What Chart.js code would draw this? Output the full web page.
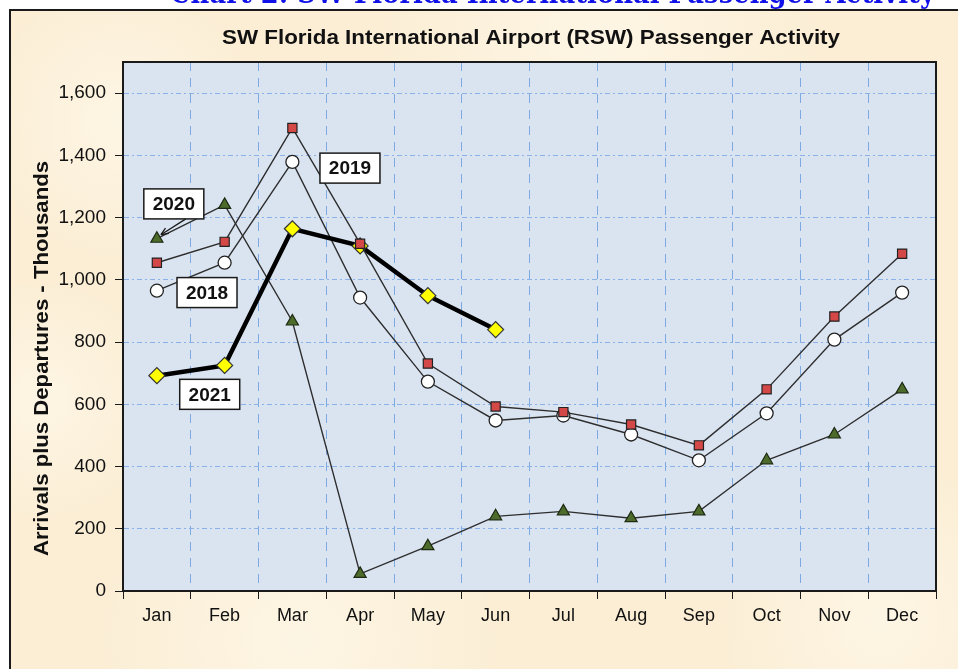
<!DOCTYPE html>
<html>
<head>
<meta charset="utf-8">
<script src="https://cdn.jsdelivr.net/npm/chart.js@4"></script>
<style>
  html, body { margin: 0; padding: 0; background: #ffffff; }
  canvas { display: block; }
</style>
</head>
<body>
<canvas id="myChart" width="958" height="669"></canvas>
<script>
// values, thousands of passengers
const months = ["Jan", "Feb", "Mar", "Apr", "May", "Jun", "Jul", "Aug", "Sep", "Oct", "Nov", "Dec"];
const pax2018 = [965, 1055, 1379, 943, 673, 548, 564, 503, 420, 571, 808, 959];
const pax2019 = [1055, 1122, 1488, 1116, 731, 593, 575, 535, 468, 648, 882, 1084];
const pax2020 = [1132, 1241, 866, 55, 144, 240, 256, 234, 256, 420, 503, 648];
const pax2021 = [692, 725, 1164, 1109, 949, 840, null, null, null, null, null, null];
const yTicks = [0, 200, 400, 600, 800, 1000, 1200, 1400, 1600];

const pageTitle = "Chart 2: SW Florida International Passenger Activity";
const chartTitle = "SW Florida International Airport (RSW) Passenger Activity";
const yTitle = "Arrivals plus Departures - Thousands";

const FONT = '"Liberation Sans", Arial, sans-serif';

// draw text squeezed/stretched to a given width
function fitText(ctx, text, x, y, width) {
  const w = ctx.measureText(text).width;
  ctx.save();
  ctx.translate(x, y);
  ctx.scale(width / w, 1);
  ctx.fillText(text, 0, 0);
  ctx.restore();
}

// background, frame, titles and the year boxes
const decorPlugin = {
  id: "decor",
  beforeDraw(chart) {
    const ctx = chart.ctx;
    const area = chart.chartArea;
    ctx.save();
    ctx.fillStyle = "#ffffff";
    ctx.fillRect(0, 0, chart.width, chart.height);
    ctx.fillStyle = "#fbeed5";
    ctx.fillRect(10, 10, chart.width, chart.height);
    // a few soft light patches for the parchment look
    [[120, 120, 140], [600, 40, 220], [300, 640, 200], [880, 620, 160], [40, 400, 120]].forEach(function (p) {
      const g = ctx.createRadialGradient(p[0], p[1], 0, p[0], p[1], p[2]);
      g.addColorStop(0, "rgba(255,250,238,0.6)");
      g.addColorStop(1, "rgba(255,250,238,0)");
      ctx.fillStyle = g;
      ctx.fillRect(10, 10, chart.width, chart.height);
    });
    ctx.strokeStyle = "#1a1a1a";
    ctx.lineWidth = 2;
    ctx.strokeRect(10, 10, chart.width + 10, chart.height + 10);
    // plot area fill
    ctx.fillStyle = "#dae4f1";
    ctx.fillRect(area.left, area.top, area.right - area.left, area.bottom - area.top);
    // clipped page heading
    ctx.font = 'bold 30px "DejaVu Serif", "Liberation Serif", serif';
    ctx.fillStyle = "#1010e8";
    ctx.textAlign = "left";
    ctx.textBaseline = "alphabetic";
    fitText(ctx, pageTitle, 170, 3, 765);
    // chart title
    ctx.font = "bold 20px " + FONT;
    ctx.fillStyle = "#111111";
    ctx.textBaseline = "middle";
    fitText(ctx, chartTitle, 222, 38, 618);
    // y-axis title
    ctx.translate(42, 556);
    ctx.rotate(-Math.PI / 2);
    ctx.font = "bold 21px " + FONT;
    fitText(ctx, yTitle, 0, 0, 395);
    ctx.restore();
  },
  afterDatasetsDraw(chart, args, opts) {
    const ctx = chart.ctx;
    const xs = chart.scales.x, ys = chart.scales.y;
    const area = chart.chartArea;
    ctx.save();
    // top and right border of plot
    ctx.strokeStyle = "#1a1a1a";
    ctx.lineWidth = 2;
    ctx.strokeRect(area.left, area.top, area.right - area.left, area.bottom - area.top);
    opts.labels.forEach(function (l) {
      const cx = xs.getPixelForValue(l.x);
      const cy = ys.getPixelForValue(l.y);
      if (l.to) {
        const tx = xs.getPixelForValue(l.to[0]);
        const ty = ys.getPixelForValue(l.to[1]);
        const sx = cx + 12, sy = cy + 15;
        ctx.strokeStyle = "#1a1a1a";
        ctx.lineWidth = 1.3;
        ctx.beginPath();
        ctx.moveTo(sx, sy);
        ctx.lineTo(tx, ty);
        ctx.stroke();
        const a = Math.atan2(ty - sy, tx - sx);
        ctx.beginPath();
        ctx.moveTo(tx, ty);
        ctx.lineTo(tx - 8 * Math.cos(a - 0.4), ty - 8 * Math.sin(a - 0.4));
        ctx.moveTo(tx, ty);
        ctx.lineTo(tx - 8 * Math.cos(a + 0.4), ty - 8 * Math.sin(a + 0.4));
        ctx.stroke();
      }
      ctx.fillStyle = "#ffffff";
      ctx.fillRect(cx - 30, cy - 15, 60, 30);
      ctx.strokeStyle = "#1a1a1a";
      ctx.lineWidth = 1.5;
      ctx.strokeRect(cx - 30, cy - 15, 60, 30);
      ctx.fillStyle = "#111111";
      ctx.font = "bold 19px " + FONT;
      ctx.textAlign = "center";
      ctx.textBaseline = "middle";
      ctx.fillText(l.text, cx, cy + 1);
    });
    ctx.restore();
  }
};

const thin = { borderColor: "#2e2e2e", borderWidth: 1.4, tension: 0 };

new Chart(document.getElementById("myChart"), {
  type: "line",
  data: {
    labels: months,
    datasets: [
      Object.assign({
        label: "2019", data: pax2019, pointStyle: "rect", pointRadius: 6.5,
        pointBackgroundColor: "#d44848", pointBorderColor: "#222222", pointBorderWidth: 1.2
      }, thin),
      {
        label: "2021", data: pax2021, borderColor: "#000000", borderWidth: 4.5,
        pointStyle: "rectRot", pointRadius: 8, pointBackgroundColor: "#ffff00",
        pointBorderColor: "#333333", pointBorderWidth: 1.2, spanGaps: false
      },
      Object.assign({
        label: "2018", data: pax2018, pointStyle: "circle", pointRadius: 6.5,
        pointBackgroundColor: "#ffffff", pointBorderColor: "#222222", pointBorderWidth: 1.3
      }, thin),
      Object.assign({
        label: "2020", data: pax2020, pointStyle: "triangle", pointRadius: 7,
        pointBackgroundColor: "#4d6b2b", pointBorderColor: "#1e2a12", pointBorderWidth: 1.2
      }, thin)
    ]
  },
  options: {
    responsive: false,
    animation: false,
    layout: { padding: { left: 12, right: 22, top: 62, bottom: 0 } },
    plugins: {
      legend: { display: false },
      tooltip: { enabled: false },
      decor: {
        labels: [
          { text: "2020", x: 0.25, y: 1244, to: [0.06, 1145] },
          { text: "2019", x: 2.85, y: 1359 },
          { text: "2018", x: 0.74, y: 959 },
          { text: "2021", x: 0.78, y: 632 }
        ]
      }
    },
    scales: {
      x: {
        offset: true,
        grid: { offset: true, color: "#7eaae4", lineWidth: 1, tickColor: "#1a1a1a", tickLength: 8 },
        border: { color: "#1a1a1a", width: 2, dash: [9, 7] },
        ticks: { color: "#111111", font: { family: FONT, size: 18 }, padding: 6, maxRotation: 0 },
        afterFit(scale) { scale.height = 78; }
      },
      y: {
        min: 0, max: 1700,
        grid: { color: "#8ab2e8", lineWidth: 1, tickColor: "#1a1a1a", tickLength: 8 },
        border: { color: "#1a1a1a", width: 2, dash: [5, 3, 2, 3] },
        ticks: {
          color: "#111111", font: { family: FONT, size: 19 }, padding: 9,
          callback: function (v) { return v.toLocaleString("en-US"); }
        },
        afterBuildTicks(scale) { scale.ticks = yTicks.map(function (v) { return { value: v }; }); },
        afterFit(scale) { scale.width = 111; }
      }
    }
  },
  plugins: [decorPlugin]
});
</script>
</body>
</html>
